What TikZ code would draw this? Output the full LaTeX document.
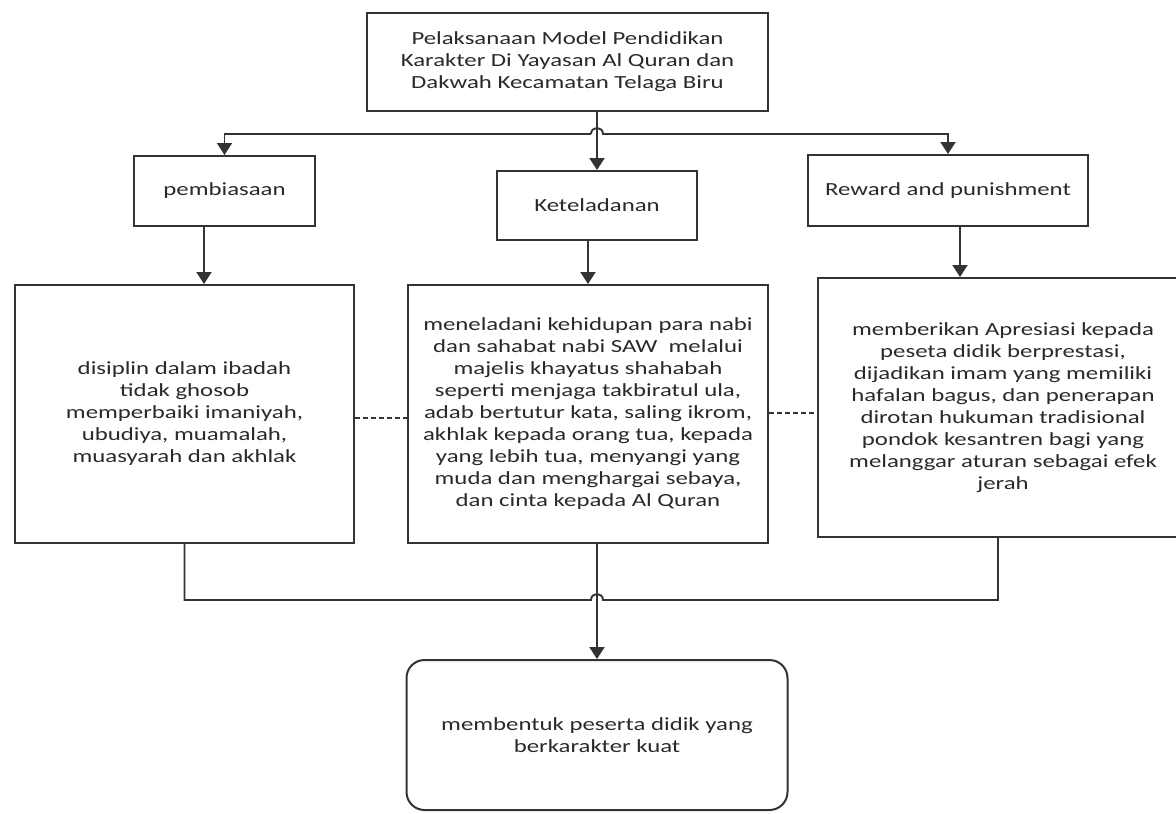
\documentclass[tikz,border=0pt]{standalone}
\usepackage{fontspec}
\setmainfont{Carlito}[FakeStretch=1.34]
\usetikzlibrary{arrows.meta}
\definecolor{ln}{HTML}{333333}
\definecolor{tx}{HTML}{2A2A2A}
\tikzset{
  box/.style={draw=ln, line width=2pt, rectangle, inner sep=0pt, align=center,
    text=tx, font=\fontsize{18.5}{22}\selectfont},
  link/.style={draw=ln, line width=1.9pt},
  arr/.style={link, -{Triangle[width=15pt,length=12pt]}},
  dsh/.style={draw=ln, line width=1.3pt, dash pattern=on 5pt off 3pt}
}
\begin{document}
\begin{tikzpicture}[x=1pt,y=-1pt]
\useasboundingbox (0,0) rectangle (1176,814);
\fill[white] (0,0) rectangle (1176,814);

\node[box, minimum width=401pt, minimum height=98pt] (top) at (567.5,62)
  {Pelaksanaan Model Pendidikan\\Karakter Di Yayasan Al Quran dan\\Dakwah Kecamatan Telaga Biru};

\node[box, minimum width=181pt, minimum height=70pt] (pb) at (224.5,191) {pembiasaan};
\node[box, minimum width=200pt, minimum height=69pt] (kt) at (597,205.5) {Keteladanan};
\node[box, minimum width=280pt, minimum height=71pt] (rp) at (948,190.5) {Reward and punishment};

\node[box, minimum width=339pt, minimum height=258pt] (bl) at (184.5,414)
  {disiplin dalam ibadah\\tidak ghosob\\memperbaiki imaniyah,\\ubudiya, muamalah,\\muasyarah dan akhlak};
\node[box, minimum width=360pt, minimum height=258pt] (bc) at (588,414)
  {meneladani kehidupan para nabi\\dan sahabat nabi SAW\ \ melalui\\majelis khayatus shahabah\\seperti menjaga takbiratul ula,\\adab bertutur kata, saling ikrom,\\akhlak kepada orang tua, kepada\\yang lebih tua, menyangi yang\\muda dan menghargai sebaya,\\dan cinta kepada Al Quran};
\node[box, minimum width=370pt, minimum height=259pt] (br) at (1003,407.5)
  {memberikan Apresiasi kepada\\peseta didik berprestasi,\\dijadikan imam yang memiliki\\hafalan bagus, dan penerapan\\dirotan hukuman tradisional\\pondok kesantren bagi yang\\melanggar aturan sebagai efek\\jerah};

\node[box, rounded corners=18pt, minimum width=381pt, minimum height=150pt] (fin) at (597,735)
  {membentuk peserta didik yang\\berkarakter kuat};

% top connectors
\coordinate (jL) at (591,134);
\coordinate (jR) at (603,134);
\draw[arr] (top.south -| kt.north) -- (kt.north);
\draw[arr] (jL) -| (pb.north);
\draw[arr] (jL) .. controls (591,126) and (603,126) .. (jR) -| (rp.north);

% middle connectors
\coordinate (a1) at (204,0);
\coordinate (a3) at (960,0);
\draw[arr] (pb.south -| a1) -- (bl.north -| a1);
\draw[arr] (kt.south -| bc.north) -- (bc.north);
\draw[arr] (rp.south -| a3) -- (br.north -| a3);

% dashed links
\draw[dsh] ([yshift=-4pt]bl.east) -- ([yshift=-4pt]bl.east -| bc.west);
\draw[dsh] ([yshift=1pt]bc.east) -- ([yshift=1pt]bc.east -| br.west);

% bottom connectors
\coordinate (bL) at (591,600);
\coordinate (bR) at (603,600);
\coordinate (a4) at (998,0);
\draw[link] (bl.south) |- (bL) .. controls (591,592) and (603,592) .. (bR) -| (br.south -| a4);
\draw[arr] (bc.south -| fin.north) -- (fin.north);
\end{tikzpicture}
\end{document}
